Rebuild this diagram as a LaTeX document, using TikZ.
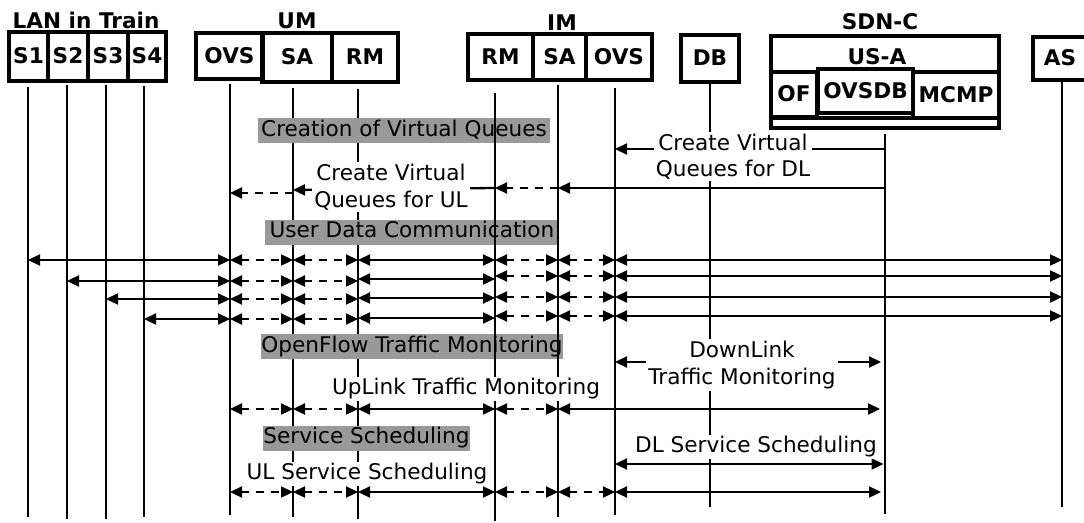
\documentclass[tikz,border=0pt]{standalone}
\usepackage{fontspec}
\setmainfont{DejaVu Sans}
\usetikzlibrary{arrows.meta}
\begin{document}
\begin{tikzpicture}[x=1pt,y=-1pt,
  >={Triangle[length=12pt,width=11pt]},
  box/.style={draw, line width=3.8pt, font=\bfseries\fontsize{21.6}{25}\selectfont, inner sep=0pt, text height=15.5pt, text depth=1pt},
  hdr/.style={font=\bfseries\fontsize{21.6}{25}\selectfont, inner sep=0pt},
  life/.style={line width=2pt},
  one/.style={line width=2.3pt,->},
  both/.style={line width=2.3pt,<->},
  dsh/.style={dash pattern=on 8pt off 7pt},
  lbl/.style={fill=white, font=\fontsize{21.6}{26.5}\selectfont, align=center, inner sep=2pt},
  gbox/.style={fill=black!40, font=\fontsize{21.6}{26}\selectfont, inner xsep=0pt, inner ysep=0pt, minimum height=25pt, text height=15.5pt, text depth=4.5pt}
]
\useasboundingbox (0,0) rectangle (1084,522);

% headers
\node[hdr] (hLAN) at (86,20) {LAN in Train};
\node[hdr] (hUM) at (297,21) {UM};
\node[hdr] (hIM) at (562,23) {IM};
\node[hdr] (hSDN) at (880,22) {SDN-C};

% boxes
\node[box, minimum width=39pt, minimum height=49pt] (S1) at (28.5,56.5) {S1};
\node[box, minimum width=40pt, minimum height=49pt] (S2) at (68,56.5) {S2};
\node[box, minimum width=40pt, minimum height=49pt] (S3) at (108,56.5) {S3};
\node[box, minimum width=38pt, minimum height=49pt] (S4) at (147,56.5) {S4};

\node[box, minimum width=67pt, minimum height=46pt] (UO) at (229.5,56) {OVS};
\node[box, minimum width=70pt, minimum height=49pt] (US) at (297,57.5) {SA};
\node[box, minimum width=66pt, minimum height=49pt] (UR) at (365,57.5) {RM};

\node[box, minimum width=65pt, minimum height=46pt] (IR) at (500.5,57) {RM};
\node[box, minimum width=53pt, minimum height=46pt] (IS) at (559.5,57) {SA};
\node[box, minimum width=66pt, minimum height=46pt] (IO) at (619,57) {OVS};

\node[box, minimum width=58pt, minimum height=47pt] (DB) at (710,58.5) {DB};

\node[box, minimum width=228pt, minimum height=92pt] (SDN) at (885,82) {};
\node[hdr] (USA) at (877,57) {US-A};
\node[box, minimum width=46pt, minimum height=45pt] (OF) at (794,94.5) {OF};
\node[box, minimum width=95pt, minimum height=44pt] (OVSDB) at (865.5,91) {OVSDB};
\node[box, minimum width=86pt, minimum height=46pt] (MCMP) at (956,95) {MCMP};
\draw[line width=3.8pt] (771,118) -- (999,118);

\node[box, minimum width=54pt, minimum height=43pt] (AS) at (1060,58.5) {AS};

% lifeline end points
\coordinate (lS1) at (28,87);   \coordinate (bS1) at (28,517);
\coordinate (lS2) at (67,85);   \coordinate (bS2) at (67,519);
\coordinate (lS3) at (106,85);  \coordinate (bS3) at (106,519);
\coordinate (lS4) at (144,86);  \coordinate (bS4) at (144,517);
\coordinate (lUO) at (230,84);  \coordinate (bUO) at (230,515);
\coordinate (lUS) at (293,88);  \coordinate (bUS) at (293,517);
\coordinate (lUR) at (358,89);  \coordinate (bUR) at (358,519);
\coordinate (lIR) at (495,93);  \coordinate (bIR) at (495,521);
\coordinate (lIS) at (558,85);  \coordinate (bIS) at (558,517);
\coordinate (lIO) at (615,88);  \coordinate (bIO) at (615,515);
\coordinate (lDB) at (710,83);  \coordinate (bDB) at (710,507);
\coordinate (lSC) at (885,134); \coordinate (bSC) at (885,514);
\coordinate (lAS) at (1062,80); \coordinate (bAS) at (1062,507);

\foreach \l in {S1,S2,S3,S4,UO,US,UR,IO,DB,SC,AS}
  \draw[life] (l\l) -- (b\l);

% phase boxes
\node[gbox, minimum width=292pt] (gC) at (404,130.5) {Creation of Virtual Queues};
\node[gbox, minimum width=294pt] (gU) at (412,232) {User Data Communication};
\node[gbox, minimum width=302pt] (gO) at (412,346.5) {OpenFlow Traffic Monitoring};
\node[gbox, minimum width=207pt] (gS) at (366.5,438) {Service Scheduling};

\foreach \l in {IR,IS}
  \draw[life] (l\l) -- (b\l);

% creation of virtual queues
\coordinate (d1) at (0,149);
\draw[one] (lSC |- d1) -- (lIO |- d1);
\coordinate (u1) at (0,188);
\coordinate (u2) at (0,190);
\coordinate (u3) at (0,193);
\draw[one] (lSC |- u1) -- (lIS |- u1);
\draw[one,dsh] (lIS |- u1) -- (lIR |- u1);
\draw[one] (lIR |- u1) -- (lUS |- u2);
\draw[one,dsh] (lUS |- u3) -- (lUO |- u3);

% user data communication
\foreach \s/\yl/\ym/\yr [count=\i] in {lS1/260/260/260, lS2/281/279/276, lS3/299/298/297, lS4/319/318/316} {
  \coordinate (rl\i) at (0,\yl);
  \coordinate (rm\i) at (0,\ym);
  \coordinate (rr\i) at (0,\yr);
  \draw[both] (\s |- rl\i) -- (lUO |- rl\i);
  \draw[both,dsh] (lUO |- rl\i) -- (lUS |- rl\i);
  \draw[both,dsh] (lUS |- rl\i) -- (lUR |- rl\i);
  \draw[both] (lUR |- rm\i) -- (lIR |- rm\i);
  \draw[both,dsh] (lIR |- rr\i) -- (lIS |- rr\i);
  \draw[both,dsh] (lIS |- rr\i) -- (lIO |- rr\i);
  \draw[both] (lIO |- rr\i) -- (lAS |- rr\i);
}

% traffic monitoring
\coordinate (m1) at (0,362);
\draw[both,shorten >=4pt] (lIO |- m1) -- (lSC |- m1);
\coordinate (m2) at (0,409);
\draw[both,dsh] (lUO |- m2) -- (lUS |- m2);
\draw[both,dsh] (lUS |- m2) -- (lUR |- m2);
\draw[both] (lUR |- m2) -- (lIR |- m2);
\draw[both,dsh] (lIR |- m2) -- (lIS |- m2);
\draw[both,shorten >=5pt] (lIS |- m2) -- (lSC |- m2);

% service scheduling
\coordinate (s1) at (0,464);
\draw[both,shorten >=1.5pt] (lIO |- s1) -- (lSC |- s1);
\coordinate (s2) at (0,492);
\draw[both,dsh] (lUO |- s2) -- (lUS |- s2);
\draw[both,dsh] (lUS |- s2) -- (lUR |- s2);
\draw[both] (lUR |- s2) -- (lIR |- s2);
\draw[both,dsh] (lIR |- s2) -- (lIS |- s2);
\draw[both,dsh] (lIS |- s2) -- (lIO |- s2);
\draw[both,shorten >=4pt] (lIO |- s2) -- (lSC |- s2);

% message labels
\node[lbl] (tUL) at (391,187) {Create Virtual\\Queues for UL};
\node[lbl] (tDL) at (733,156.5) {Create Virtual\\Queues for DL};
\node[lbl] (tDM) at (742,365) {DownLink\\Traffic Monitoring};
\node[lbl] (tUM) at (466,389) {UpLink Traffic Monitoring};
\node[lbl] (tDS) at (756,447) {DL Service Scheduling};
\node[lbl] (tUS) at (367,474) {UL Service Scheduling};
\end{tikzpicture}
\end{document}
